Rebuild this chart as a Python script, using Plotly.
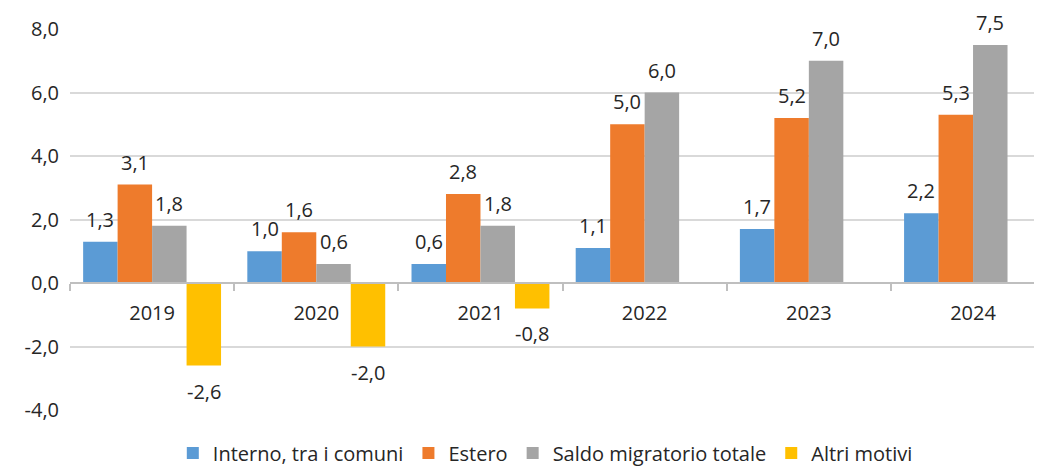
import plotly.graph_objects as go

years = ["2019", "2020", "2021", "2022", "2023", "2024"]
interno = [1.3, 1.0, 0.6, 1.1, 1.7, 2.2]
estero = [3.1, 1.6, 2.8, 5.0, 5.2, 5.3]
saldo = [1.8, 0.6, 1.8, 6.0, 7.0, 7.5]
altri = [-2.6, -2.0, -0.8, None, None, None]
y_ticks = [-4.0, -2.0, 0.0, 2.0, 4.0, 6.0, 8.0]

series = [
    ("Interno, tra i comuni", interno, "#5B9BD5"),
    ("Estero", estero, "#EE7B2C"),
    ("Saldo migratorio totale", saldo, "#A5A5A5"),
    ("Altri motivi", altri, "#FFC000"),
]

FONT = "Century Gothic, Open Sans, sans-serif"
TXT = "#262626"
BARGAP = 0.16
FS = 20


def fmt(v):
    return f"{v:.1f}".replace(".", ",")


fig = go.Figure()
n = len(series)
bw = (1 - BARGAP) / n
annotations = []
for i, (name, vals, col) in enumerate(series):
    fig.add_trace(go.Bar(
        x=list(range(len(years))), y=vals, name=name,
        marker=dict(color=col, line=dict(width=0)),
    ))
    off = -(1 - BARGAP) / 2 + (i + 0.5) * bw
    for j, v in enumerate(vals):
        if v is None:
            continue
        annotations.append(dict(
            x=j + off, y=v, xref="x", yref="y",
            text=fmt(v),
            showarrow=False, borderpad=0,
            yanchor="bottom" if v >= 0 else "top",
            yshift=8 if v >= 0 else -11,
            font=dict(family=FONT, size=FS, color=TXT),
        ))

fig.update_layout(
    width=1034, height=461,
    margin=dict(l=62, r=0, t=21, b=59, autoexpand=False),
    paper_bgcolor="white", plot_bgcolor="white",
    barmode="group", bargap=BARGAP, bargroupgap=0,
    separators=",.",
    font=dict(family=FONT, size=FS, color=TXT),
    showlegend=True,
    legend=dict(orientation="h", x=0.489, xanchor="center", y=-0.062, yanchor="top",
                font=dict(family=FONT, size=FS, color=TXT),
                itemwidth=30, tracegroupgap=0, bgcolor="rgba(0,0,0,0)"),
    annotations=annotations,
)
fig.update_xaxes(
    type="linear", range=[-0.5, 5.42], automargin=False,
    tickmode="array", tickvals=list(range(len(years))), ticktext=years,
    anchor="free", position=1/3,
    showline=True, linecolor="#BFBFBF", linewidth=2,
    showgrid=False, zeroline=False, ticks="", ticklen=0,
    ticklabelstandoff=12,
    tickfont=dict(family=FONT, size=FS, color=TXT),
    minor=dict(tickmode="array", tickvals=[k - 0.5 for k in range(len(years) + 1)],
               ticks="outside", ticklen=7, tickcolor="#BFBFBF", tickwidth=2, showgrid=False),
)
fig.update_yaxes(
    range=[-4, 8], automargin=False,
    tickmode="array", tickvals=y_ticks, ticktext=[fmt(t) for t in y_ticks],
    showgrid=True, gridcolor="#D9D9D9", gridwidth=2,
    zeroline=False, showline=False, ticks="",
    ticklabelstandoff=10,
    tickfont=dict(family=FONT, size=FS, color=TXT),
)

fig.write_html("out.html")
